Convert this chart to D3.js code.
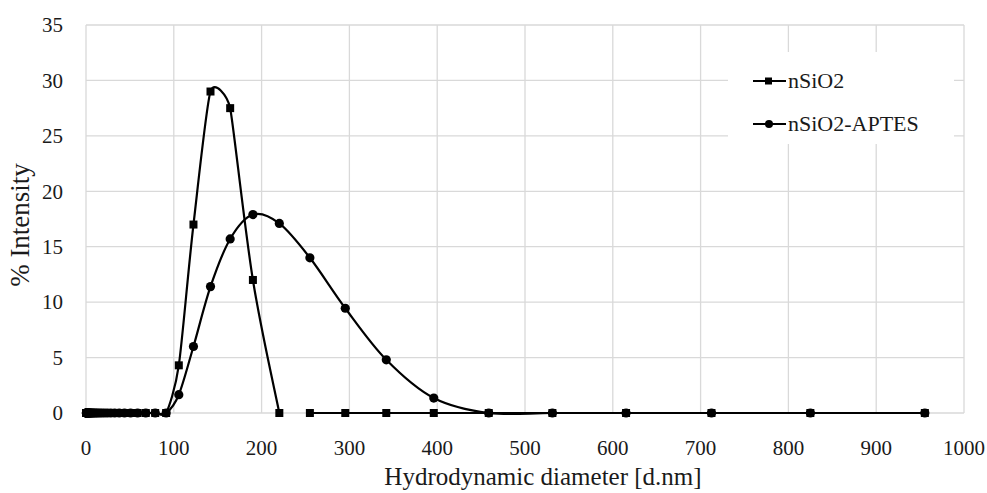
<!DOCTYPE html>
<html>
<head>
<meta charset="utf-8">
<script src="https://cdn.jsdelivr.net/npm/d3@7"></script>
<style>
  body { margin: 0; background: #fff; }
  text { font-family: "Liberation Serif", "DejaVu Serif", serif; fill: #1a1a1a; }
</style>
</head>
<body>
<div id="chart"></div>
<script>
const width = 987;
const height = 493;
const margin = { top: 25, right: 23, bottom: 80, left: 86 };

// size bins (d.nm)
const diameters = [0.4, 0.4632, 0.5365, 0.6213, 0.7195, 0.8332, 0.9649, 1.117, 1.294, 1.499,
    1.736, 2.01, 2.328, 2.696, 3.122, 3.615, 4.187, 4.849, 5.615, 6.503,
    7.531, 8.721, 10.1, 11.7, 13.54, 15.69, 18.17, 21.04, 24.36, 28.21,
    32.67, 37.84, 43.82, 50.75, 58.77, 68.06, 78.82, 91.28, 105.7, 122.4,
    141.8, 164.2, 190.1, 220.2, 255.0, 295.3, 342.0, 396.1, 458.7, 531.2,
    615.1, 712.4, 825.0, 955.4];

const nSiO2 = [0, 0, 0, 0, 0, 0, 0, 0, 0, 0,
    0, 0, 0, 0, 0, 0, 0, 0, 0, 0,
    0, 0, 0, 0, 0, 0, 0, 0, 0, 0,
    0, 0, 0, 0, 0, 0, 0, 0, 4.3, 17.0,
    29.0, 27.5, 12.0, 0, 0, 0, 0, 0, 0, 0,
    0, 0, 0, 0];

const nSiO2Aptes = [0, 0, 0, 0, 0, 0, 0, 0, 0, 0,
    0, 0, 0, 0, 0, 0, 0, 0, 0, 0,
    0, 0, 0, 0, 0, 0, 0, 0, 0, 0,
    0, 0, 0, 0, 0, 0, 0, 0, 1.65, 6.0,
    11.4, 15.7, 17.9, 17.1, 14.0, 9.45, 4.8, 1.35, 0, 0,
    0, 0, 0, 0];

// the nSiO2 line is not drawn between these two bins in the original
const nSiO2BreakAfter = [220.2];

const xTicks = [0, 100, 200, 300, 400, 500, 600, 700, 800, 900, 1000];
const yTicks = [0, 5, 10, 15, 20, 25, 30, 35];

const series = [
    { name: "nSiO2", values: nSiO2, marker: "square", breaks: nSiO2BreakAfter },
    { name: "nSiO2-APTES", values: nSiO2Aptes, marker: "circle", breaks: [] }
];

// spreadsheet-style smoothed line: bezier through the points, tangent from
// the neighbours, handle length capped at half the shorter neighbouring segment
function smoothCurve(context) {
    let pts;
    return {
        areaStart() {}, areaEnd() {},
        lineStart() { pts = []; },
        point(px, py) { pts.push([+px, +py]); },
        lineEnd() {
            const n = pts.length;
            if (!n) return;
            context.moveTo(pts[0][0], pts[0][1]);
            const ctrl = pts.map((p, i) => {
                const a = pts[Math.max(i - 1, 0)];
                const b = pts[Math.min(i + 1, n - 1)];
                const tx = b[0] - a[0], ty = b[1] - a[1];
                const tl = Math.hypot(tx, ty);
                if (!tl) return [0, 0];
                const dPrev = i > 0 ? Math.hypot(p[0] - a[0], p[1] - a[1]) : Infinity;
                const dNext = i < n - 1 ? Math.hypot(b[0] - p[0], b[1] - p[1]) : Infinity;
                const len = Math.min(tl / 6, Math.min(dPrev, dNext) / 2);
                return [tx / tl * len, ty / tl * len];
            });
            for (let i = 1; i < n; i++) {
                const p0 = pts[i - 1], p1 = pts[i];
                context.bezierCurveTo(
                    p0[0] + ctrl[i - 1][0], p0[1] + ctrl[i - 1][1],
                    p1[0] - ctrl[i][0], p1[1] - ctrl[i][1],
                    p1[0], p1[1]);
            }
        }
    };
}

const x = d3.scaleLinear().domain([0, 1000]).range([margin.left, width - margin.right]);
const y = d3.scaleLinear().domain([0, 35]).range([height - margin.bottom, margin.top]);

const svg = d3.select("#chart").append("svg")
    .attr("width", width)
    .attr("height", height);

// gridlines
svg.append("g")
    .selectAll("line")
    .data(yTicks)
    .join("line")
    .attr("x1", margin.left).attr("x2", width - margin.right)
    .attr("y1", d => y(d)).attr("y2", d => y(d))
    .attr("stroke", "#d9d9d9").attr("stroke-width", 1.3);

svg.append("g")
    .selectAll("line")
    .data(xTicks)
    .join("line")
    .attr("x1", d => x(d)).attr("x2", d => x(d))
    .attr("y1", margin.top).attr("y2", height - margin.bottom)
    .attr("stroke", "#d9d9d9").attr("stroke-width", 1.3);

// tick labels
svg.append("g")
    .selectAll("text")
    .data(yTicks)
    .join("text")
    .attr("x", margin.left - 23)
    .attr("y", d => y(d))
    .attr("dy", "0.35em")
    .attr("text-anchor", "end")
    .style("font-size", "21px")
    .text(d => d);

svg.append("g")
    .selectAll("text")
    .data(xTicks)
    .join("text")
    .attr("x", d => x(d))
    .attr("y", 455)
    .attr("text-anchor", "middle")
    .style("font-size", "21px")
    .text(d => d);

// axis titles
svg.append("text")
    .attr("x", 543)
    .attr("y", 485)
    .attr("text-anchor", "middle")
    .style("font-size", "25px")
    .text("Hydrodynamic diameter [d.nm]");

svg.append("text")
    .attr("transform", "translate(29,225) rotate(-90)")
    .attr("text-anchor", "middle")
    .style("font-size", "27px")
    .text("% Intensity");

// lines + markers
const line = d3.line()
    .x(d => x(d[0]))
    .y(d => y(d[1]))
    .curve(smoothCurve);

const plot = svg.append("g");

series.forEach(s => {
    const pts = diameters.map((d, i) => [d, s.values[i]]);

    // split into segments where the original line is broken
    const segments = [[]];
    pts.forEach(p => {
        segments[segments.length - 1].push(p);
        if (s.breaks.includes(p[0])) segments.push([]);
    });

    plot.append("g").selectAll("path")
        .data(segments.filter(seg => seg.length > 1))
        .join("path")
        .attr("d", line)
        .attr("fill", "none")
        .attr("stroke", "#000")
        .attr("stroke-width", 2.2);

    if (s.marker === "square") {
        plot.append("g").selectAll("rect")
            .data(pts)
            .join("rect")
            .attr("x", d => x(d[0]) - 4)
            .attr("y", d => y(d[1]) - 4)
            .attr("width", 8).attr("height", 8)
            .attr("fill", "#000");
    } else {
        plot.append("g").selectAll("circle")
            .data(pts)
            .join("circle")
            .attr("cx", d => x(d[0]))
            .attr("cy", d => y(d[1]))
            .attr("r", 4.6)
            .attr("fill", "#000");
    }
});

// legend
const legend = svg.append("g");
legend.append("rect")
    .attr("x", 728).attr("y", 52)
    .attr("width", 226).attr("height", 92)
    .attr("fill", "#fff");

series.forEach((s, i) => {
    const ly = 81 + i * 43;
    legend.append("line")
        .attr("x1", 753).attr("x2", 786)
        .attr("y1", ly).attr("y2", ly)
        .attr("stroke", "#000").attr("stroke-width", 2.2);
    if (s.marker === "square") {
        legend.append("rect")
            .attr("x", 765).attr("y", ly - 3.5)
            .attr("width", 7).attr("height", 7)
            .attr("fill", "#000");
    } else {
        legend.append("circle")
            .attr("cx", 769).attr("cy", ly)
            .attr("r", 4)
            .attr("fill", "#000");
    }
    legend.append("text")
        .attr("x", 788)
        .attr("y", ly)
        .attr("dy", "0.33em")
        .style("font-size", "22px")
        .text(s.name);
});
</script>
</body>
</html>
